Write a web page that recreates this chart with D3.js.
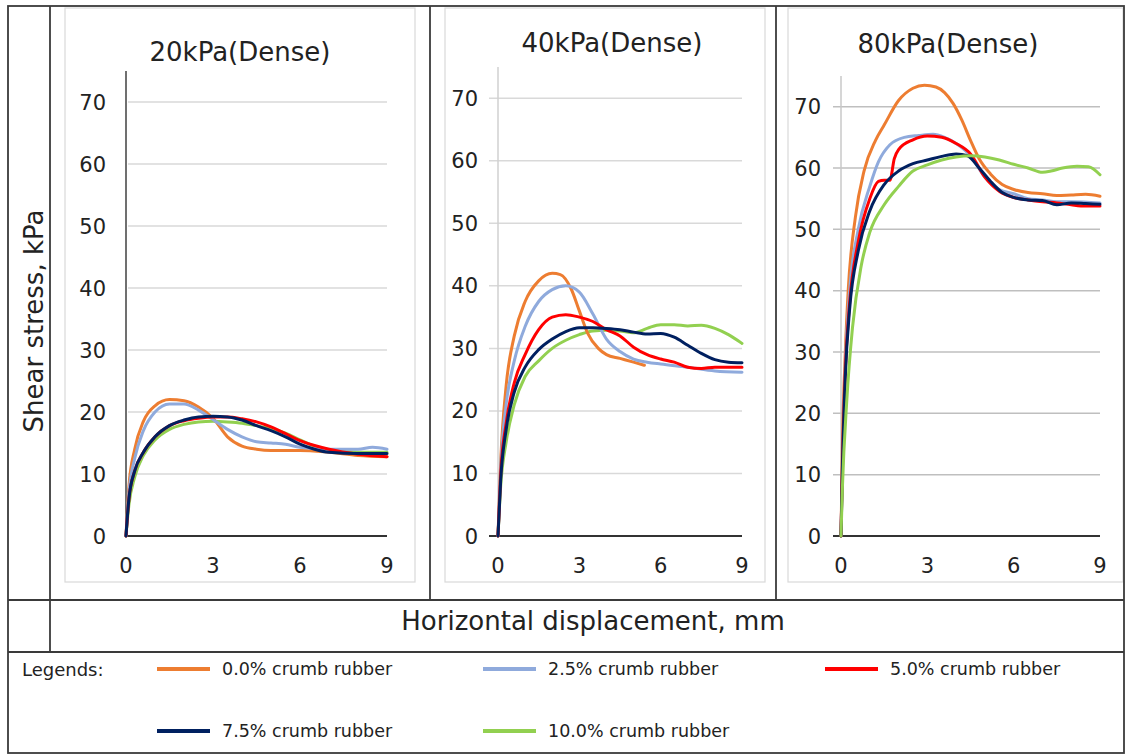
<!DOCTYPE html>
<html>
<head>
<meta charset="utf-8">
<script src="https://cdn.jsdelivr.net/npm/d3@7"></script>
<style>
  body { margin: 0; background: #fff; }
  svg { display: block; font-family: "DejaVu Sans", Verdana, sans-serif; }
</style>
</head>
<body>
<div id="chart"></div>
<script>
// ---- data ----
var panelTitles = ["20kPa(Dense)", "40kPa(Dense)", "80kPa(Dense)"];
var seriesNames = ["0.0% crumb rubber", "2.5% crumb rubber", "5.0% crumb rubber", "7.5% crumb rubber", "10.0% crumb rubber"];
var xTicks = [0, 3, 6, 9];
var yTicks = [0, 10, 20, 30, 40, 50, 60, 70];

// 20 kPa, [displacement mm, shear stress kPa]
var p20_00 = [[0,0],[0.1,8],[0.3,14],[0.6,18.5],[1,21],[1.5,22],[2,21.8],[2.5,20.8],[3,19],[3.5,16],[4,14.5],[4.5,14],[5,13.8],[6,13.8],[7,13.5],[8,13],[9,12.8]];
var p20_25 = [[0,0],[0.1,7],[0.3,12.5],[0.6,17],[1,20],[1.5,21.3],[2,21.3],[2.5,20.3],[3,18.8],[3.5,17.2],[4,16],[4.5,15.2],[5,15],[5.5,14.8],[6,14.3],[7,14],[8,14],[8.5,14.3],[9,14]];
var p20_50 = [[0,0],[0.1,6],[0.3,10.5],[0.6,13.5],[1,16],[1.5,17.8],[2,18.6],[2.5,19],[3,19.2],[3.5,19.2],[4,18.9],[4.5,18.4],[5,17.6],[5.5,16.5],[6,15.4],[6.5,14.6],[7,14],[8,13.2],[9,12.8]];
var p20_75 = [[0,0],[0.1,6],[0.3,10.5],[0.6,13.5],[1,16],[1.5,17.8],[2,18.7],[2.5,19.2],[3,19.3],[3.5,19.2],[4,18.7],[4.5,17.8],[5,17],[5.5,16],[6,14.8],[6.5,14],[7,13.5],[8,13.3],[9,13.3]];
var p20_100 = [[0,0],[0.1,5],[0.3,9.5],[0.6,13],[1,15.5],[1.5,17.2],[2,18],[2.5,18.4],[3,18.5],[3.5,18.4],[4,18.2],[4.5,17.8],[5,17.3],[5.5,16.6],[6,15.5],[6.5,14.5],[7,13.9],[8,13.5],[9,13.5]];

// 40 kPa
var p40_00 = [[0,0],[0.1,12],[0.3,24],[0.6,32],[1,37.5],[1.5,40.8],[2,42],[2.3,41.8],[2.7,39.5],[3,36],[3.3,32.5],[3.7,30],[4,29],[4.5,28.4],[5,27.8],[5.4,27.3]];
var p40_25 = [[0,0],[0.1,11],[0.3,21],[0.6,28],[1,33.5],[1.5,37.5],[2,39.4],[2.5,40],[3,39],[3.5,35.5],[4,31.5],[4.5,29.5],[5,28.3],[5.5,27.8],[6,27.5],[7,27],[8,26.4],[9,26.2]];
var p40_50 = [[0,0],[0.1,10],[0.3,18],[0.6,24.5],[1,29],[1.5,33],[2,35],[2.5,35.4],[3,35],[3.5,34.3],[4,33],[4.5,32],[5,30.2],[5.5,29],[6,28.3],[6.5,27.8],[7,27],[7.5,26.8],[8,27],[9,27]];
var p40_75 = [[0,0],[0.1,9],[0.3,17],[0.6,23],[1,27],[1.5,29.8],[2,31.5],[2.5,32.7],[3,33.3],[3.5,33.3],[4,33.2],[4.5,33],[5,32.6],[5.5,32.3],[6,32.4],[6.5,31.8],[7,30.5],[7.5,29.2],[8,28.2],[8.5,27.8],[9,27.7]];
var p40_100 = [[0,0],[0.1,8],[0.3,15],[0.6,21],[1,25.5],[1.5,28],[2,30],[2.5,31.3],[3,32.2],[3.5,32.8],[4,32.9],[4.5,32.8],[5,32.5],[5.5,33.2],[6,33.8],[6.5,33.8],[7,33.6],[7.5,33.7],[8,33.2],[8.5,32.2],[9,30.8]];

// 80 kPa
var p80_00 = [[0,0],[0.05,15],[0.15,30],[0.25,40],[0.5,52],[0.8,59.5],[1.2,64.5],[1.5,67],[2,71],[2.5,73],[2.9,73.5],[3.3,73.2],[3.6,72.3],[3.9,70.5],[4.2,67.8],[4.5,64.5],[4.8,61.5],[5.2,59],[5.6,57.3],[6,56.5],[6.5,56],[7,55.8],[7.5,55.5],[8,55.6],[8.5,55.7],[9,55.4]];
var p80_25 = [[0,0],[0.05,12],[0.15,28],[0.3,40],[0.6,50],[1,57],[1.3,61],[1.7,63.8],[2.2,65],[2.7,65.3],[3.2,65.5],[3.6,65],[4,64],[4.5,62],[5,58.5],[5.5,56.5],[6,55.8],[6.5,55],[7,54.8],[7.5,54.5],[8,54.5],[9,54.3]];
var p80_50 = [[0,0],[0.05,12],[0.15,27],[0.3,38],[0.6,48],[1,55],[1.3,57.8],[1.5,58],[1.7,58],[1.85,61.5],[2,63],[2.5,64.6],[3,65.2],[3.5,65],[4,64],[4.5,62.3],[5,58.5],[5.5,56.2],[6,55.2],[6.5,54.8],[7,54.5],[7.5,54.3],[8,54],[8.5,53.8],[9,53.8]];
var p80_75 = [[0,0],[0.05,11],[0.15,26],[0.3,37],[0.6,46.5],[1,53],[1.5,57.3],[2,59.5],[2.5,60.7],[3,61.3],[3.5,61.9],[4,62.3],[4.4,62],[4.8,60],[5.2,57.8],[5.6,56],[6,55.2],[6.5,54.8],[7,54.7],[7.5,54],[8,54.3],[8.5,54.2],[9,54.1]];
var p80_100 = [[0,0],[0.05,8],[0.2,22],[0.4,34],[0.7,44],[1,49.5],[1.5,54],[2,57],[2.5,59.5],[3,60.5],[3.5,61.3],[4,61.8],[4.5,62],[5,61.8],[5.5,61.3],[6,60.6],[6.5,60],[7,59.3],[7.3,59.5],[7.7,60],[8.2,60.3],[8.6,60.2],[9,58.9]];

var panelSeries = [
  [p20_00, p20_25, p20_50, p20_75, p20_100],
  [p40_00, p40_25, p40_50, p40_75, p40_100],
  [p80_00, p80_25, p80_50, p80_75, p80_100]
];

// ---- styling / layout ----
var colors = ["#ED7D31", "#8FAADC", "#FF0000", "#002060", "#92D050"];
var W = 1126, H = 755;
var frameColor = "#3a3a3a";

// per panel positions (chart area + plot area) in px
var layout = [
  { ax0: 65,  ax1: 415,  left: 126, right: 387,  top: 71, titleX: 240, titleY: 61, yAxisColor: "#404040", gridColor: "#d9d9d9", gridStart: 0 },
  { ax0: 445, ax1: 765,  left: 498, right: 742,  top: 67, titleX: 612, titleY: 52, yAxisColor: "#d0d0d0", gridColor: "#d9d9d9", gridStart: -9 },
  { ax0: 788, ax1: 1123, left: 841, right: 1100, top: 76, titleX: 948, titleY: 53, yAxisColor: "#c8c8c8", gridColor: "#bfbfbf", gridStart: -8 }
];
var plotBottom = 536;

var svg = d3.select("#chart").append("svg")
    .attr("width", W)
    .attr("height", H);

svg.append("rect").attr("width", W).attr("height", H).attr("fill", "#fff");

// chart areas
layout.forEach(function(L, p) {
  svg.append("rect")
    .attr("x", L.ax0).attr("y", 8)
    .attr("width", L.ax1 - L.ax0).attr("height", 582 - 8)
    .attr("fill", "none")
    .attr("stroke", "#d9d9d9")
    .attr("stroke-width", 1.2);

  var x = d3.scaleLinear().domain([0, 9]).range([L.left, L.right]);
  var y = d3.scaleLinear().domain([0, 75]).range([plotBottom, L.top]);

  var g = svg.append("g");

  // gridlines
  g.selectAll(".grid")
    .data(yTicks.filter(function(t) { return t > 0; }))
    .enter().append("line")
    .attr("x1", L.left + (L.gridStart || 2))
    .attr("x2", L.right)
    .attr("y1", function(d) { return y(d); })
    .attr("y2", function(d) { return y(d); })
    .attr("stroke", L.gridColor)
    .attr("stroke-width", 1.5);

  // y axis line
  g.append("line")
    .attr("x1", L.left).attr("x2", L.left)
    .attr("y1", y(75)).attr("y2", y(0))
    .attr("stroke", L.yAxisColor)
    .attr("stroke-width", 1.5);

  // x axis line
  g.append("line")
    .attr("x1", L.left + Math.min(L.gridStart, 0)).attr("x2", L.right)
    .attr("y1", y(0)).attr("y2", y(0))
    .attr("stroke", "#333")
    .attr("stroke-width", 1.8);

  // y tick labels
  g.selectAll(".ylab")
    .data(yTicks)
    .enter().append("text")
    .attr("x", L.left - 20)
    .attr("y", function(d) { return y(d); })
    .attr("dy", "0.36em")
    .attr("text-anchor", "end")
    .attr("font-size", 21)
    .attr("fill", "#222")
    .text(function(d) { return d; });

  // x tick labels
  g.selectAll(".xlab")
    .data(xTicks)
    .enter().append("text")
    .attr("x", function(d) { return x(d); })
    .attr("y", 573)
    .attr("text-anchor", "middle")
    .attr("font-size", 21)
    .attr("fill", "#222")
    .text(function(d) { return d; });

  // title
  g.append("text")
    .attr("x", L.titleX)
    .attr("y", L.titleY)
    .attr("text-anchor", "middle")
    .attr("font-size", 26)
    .attr("fill", "#222")
    .text(panelTitles[p]);

  var line = d3.line()
    .x(function(d) { return x(d[0]); })
    .y(function(d) { return y(d[1]); })
    .curve(d3.curveMonotoneX);

  // draw green, orange, light blue, red, navy (roughly the stacking seen)
  var order = [4, 0, 1, 2, 3];
  if (p === 2) order = [0, 1, 2, 3, 4];
  order.forEach(function(s) {
    g.append("path")
      .datum(panelSeries[p][s])
      .attr("fill", "none")
      .attr("stroke", colors[s])
      .attr("stroke-width", 3)
      .attr("stroke-linejoin", "round")
      .attr("stroke-linecap", "round")
      .attr("d", line);
  });
});

// ---- table frame ----
var frame = svg.append("g")
    .attr("stroke", frameColor)
    .attr("stroke-width", 1.8)
    .attr("fill", "none");
frame.append("rect").attr("x", 8).attr("y", 6).attr("width", 1116).attr("height", 747);
frame.append("line").attr("x1", 50).attr("x2", 50).attr("y1", 6).attr("y2", 652);
frame.append("line").attr("x1", 430).attr("x2", 430).attr("y1", 6).attr("y2", 600);
frame.append("line").attr("x1", 776).attr("x2", 776).attr("y1", 6).attr("y2", 600);
frame.append("line").attr("x1", 8).attr("x2", 1124).attr("y1", 600).attr("y2", 600);
frame.append("line").attr("x1", 8).attr("x2", 1124).attr("y1", 652).attr("y2", 652);

// axis titles
svg.append("text")
  .attr("transform", "translate(43,321) rotate(-90)")
  .attr("text-anchor", "middle")
  .attr("font-size", 26)
  .attr("fill", "#222")
  .text("Shear stress, kPa");

svg.append("text")
  .attr("x", 593)
  .attr("y", 630)
  .attr("text-anchor", "middle")
  .attr("font-size", 26)
  .attr("fill", "#222")
  .text("Horizontal displacement, mm");

// ---- legend ----
svg.append("text")
  .attr("x", 22).attr("y", 670)
  .attr("dy", "0.35em")
  .attr("font-size", 18)
  .attr("fill", "#222")
  .text("Legends:");

var legendPos = [[157, 669], [483, 669], [825, 669], [157, 731], [483, 731]];
var leg = svg.selectAll(".leg")
  .data(seriesNames)
  .enter().append("g")
  .attr("transform", function(d, i) { return "translate(" + legendPos[i][0] + "," + legendPos[i][1] + ")"; });
leg.append("line")
  .attr("x1", 0).attr("x2", 53)
  .attr("stroke", function(d, i) { return colors[i]; })
  .attr("stroke-width", 4);
leg.append("text")
  .attr("x", 65)
  .attr("dy", "0.35em")
  .attr("font-size", 17.5)
  .attr("fill", "#222")
  .text(function(d) { return d; });
</script>
</body>
</html>
